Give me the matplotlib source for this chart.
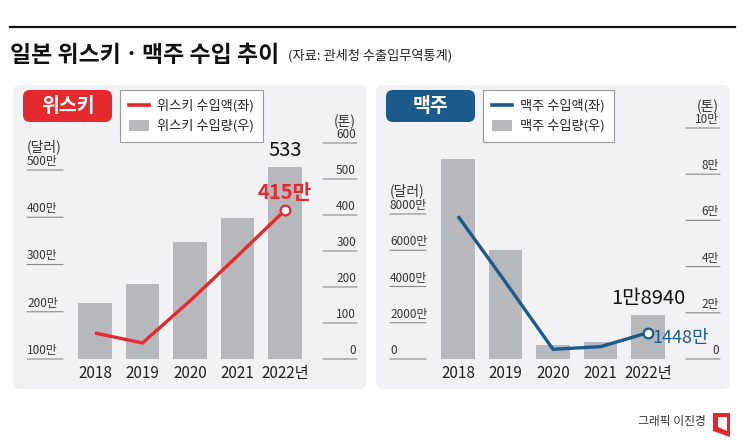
import matplotlib
matplotlib.use('Agg')
import matplotlib.pyplot as plt
from matplotlib.patches import FancyBboxPatch, Polygon, Patch
from matplotlib.lines import Line2D

plt.rcParams['font.family'] = ['Noto Sans CJK KR', 'DejaVu Sans']

years = ['2018', '2019', '2020', '2021', '2022년']

# 위스키 (수입액: 만 달러, 수입량: 톤)
whisky_amount = [155, 134, 223, 318, 415]
whisky_volume = [155, 208, 325, 392, 533]
whisky_left_ticks = [100, 200, 300, 400, 500]
whisky_right_ticks = [0, 100, 200, 300, 400, 500, 600]

# 맥주 (수입액: 만 달러, 수입량: 톤)
beer_amount = [7880, 4240, 535, 680, 1448]
beer_volume = [86600, 47200, 6000, 7400, 18940]
beer_left_ticks = [0, 2000, 4000, 6000, 8000]
beer_right_ticks = [0, 20000, 40000, 60000, 80000, 100000]

W, H = 745, 440
fig = plt.figure(figsize=(W / 100, H / 100), dpi=100)
fig.patch.set_facecolor('white')

# 배경용 축 (픽셀 좌표)
bg = fig.add_axes([0, 0, 1, 1])
bg.set_xlim(0, W)
bg.set_ylim(H, 0)
bg.axis('off')

bg.plot([10, 735], [27, 27], color='#111111', lw=1.6)
bg.text(10, 62, '일본 위스키ㆍ맥주 수입 추이', fontsize=16.5, fontweight='bold',
        color='#111111', va='baseline', ha='left')
bg.text(288, 60, '(자료: 관세청 수출입무역통계)', fontsize=9.5, color='#222222',
        va='baseline', ha='left')

# 하단 크레딧
bg.text(706, 422, '그래픽 이진경', fontsize=8.5, color='#333333', ha='right', va='center')
bg.add_patch(Polygon([(713, 413), (730, 413), (730, 437), (713, 431)], closed=True,
                     facecolor='#e5262c', edgecolor='none'))
bg.add_patch(Polygon([(718, 417), (727, 417), (727, 431), (718, 427)], closed=True,
                     facecolor='white', edgecolor='none'))

BAR = '#b7b8bc'
AX_TOP, AX_BOT = 100, 359


def draw_panel(dx, name, color, amount, volume, lticks, lfmt, lbase, lscale,
               rticks, rfmt, rscale, vol_label, amt_label, amt_offset, amt_ha, amt_size, amt_weight):
    # 패널 배경
    bg.add_patch(FancyBboxPatch((13 + dx, 85), 354, 304,
                                boxstyle='round,pad=0,rounding_size=7',
                                facecolor='#f2f2f4', edgecolor='none'))
    bg.add_patch(FancyBboxPatch((23 + dx, 90), 89, 32,
                                boxstyle='round,pad=0,rounding_size=7',
                                facecolor=color, edgecolor='none'))
    bg.text(67.5 + dx, 106, name, color='white', fontsize=14, fontweight='bold',
            ha='center', va='center')

    left, right = 20 + dx, 362 + dx
    ax = fig.add_axes([left / W, 1 - AX_BOT / H, (right - left) / W, (AX_BOT - AX_TOP) / H])
    axr = ax.twinx()
    ax.set_zorder(axr.get_zorder() + 1)
    ax.patch.set_visible(False)
    axr.patch.set_visible(False)

    step = 47.5
    c0 = 95 + dx
    ax.set_xlim((left - c0) / step, (right - c0) / step)
    ax.set_ylim(lbase, lbase + (AX_BOT - AX_TOP) / lscale)
    axr.set_ylim(0, (AX_BOT - AX_TOP) / rscale)

    x = list(range(len(years)))
    axr.bar(x, volume, width=0.7, color=BAR, zorder=1)
    ax.plot(x, amount, color=color, lw=2.4, solid_capstyle='butt', zorder=3)
    ax.plot(x[-1], amount[-1], 'o', ms=7, mfc='white', mec=color, mew=1.6, zorder=4)

    for a in (ax, axr):
        for s in a.spines.values():
            s.set_visible(False)
        a.set_yticks([])
    ax.set_xticks(x, years)
    ax.tick_params(axis='x', length=0, pad=4, labelsize=11, labelcolor='#222222')

    # 왼쪽 축 눈금
    lco = (bg.transData, ax.transData)
    for v in lticks:
        ax.annotate('', xy=(27 + dx, v), xytext=(63 + dx, v), xycoords=lco, textcoords=lco,
                    arrowprops=dict(arrowstyle='-', color='#8a8a8a', lw=0.8,
                                    shrinkA=0, shrinkB=0), annotation_clip=False)
        ax.annotate(lfmt(v), xy=(27 + dx, v), xycoords=lco, xytext=(0, 2),
                    textcoords='offset pixels', fontsize=8.5, color='#333333',
                    ha='left', va='bottom', annotation_clip=False)
    ax.annotate('(달러)', xy=(27 + dx, lticks[-1]), xycoords=lco, xytext=(0, 16),
                textcoords='offset pixels', fontsize=10, color='#333333',
                ha='left', va='bottom', annotation_clip=False)

    # 오른쪽 축 눈금
    rco = (bg.transData, axr.transData)
    for v in rticks:
        axr.annotate('', xy=(323 + dx, v), xytext=(357 + dx, v), xycoords=rco, textcoords=rco,
                     arrowprops=dict(arrowstyle='-', color='#8a8a8a', lw=0.8,
                                     shrinkA=0, shrinkB=0), annotation_clip=False)
        axr.annotate(rfmt(v), xy=(356 + dx, v), xycoords=rco, xytext=(0, 2),
                     textcoords='offset pixels', fontsize=8.5, color='#333333',
                     ha='right', va='bottom', annotation_clip=False)
    axr.annotate('(톤)', xy=(356 + dx, rticks[-1]), xycoords=rco, xytext=(0, 14),
                 textcoords='offset pixels', fontsize=10, color='#333333',
                 ha='right', va='bottom', annotation_clip=False)

    # 값 표시
    axr.annotate(vol_label, xy=(x[-1], volume[-1]), xytext=(0, 6), textcoords='offset pixels',
                 fontsize=14.5, color='#111111', ha='center', va='bottom')
    ax.annotate(amt_label, xy=(x[-1], amount[-1]), xytext=amt_offset, textcoords='offset pixels',
                fontsize=amt_size, fontweight=amt_weight, color=color, ha=amt_ha, va='center')

    # 범례
    handles = [Line2D([], [], color=color, lw=2.6),
               Patch(facecolor=BAR, edgecolor='none')]
    labels = [name + ' 수입액(좌)', name + ' 수입량(우)']
    leg = ax.legend(handles, labels, loc='upper left', bbox_to_anchor=(120 + dx, 90),
                    bbox_transform=bg.transData, borderaxespad=0, fontsize=9.5, frameon=True,
                    fancybox=False, edgecolor='#999999', framealpha=1, borderpad=0.7,
                    handlelength=1.5, handleheight=0.9, handletextpad=0.6, labelspacing=0.5)
    leg.get_frame().set_linewidth(0.8)
    for t in leg.get_texts():
        t.set_color('#222222')


draw_panel(0, '위스키', '#e42a2f', whisky_amount, whisky_volume,
           whisky_left_ticks, lambda v: f'{v}만', 100, 0.4725,
           whisky_right_ticks, lambda v: f'{v}', 0.36,
           '533', '415만', (0, 18), 'center', 14.5, 'bold')

draw_panel(363, '맥주', '#1b5a8c', beer_amount, beer_volume,
           beer_left_ticks, lambda v: '0' if v == 0 else f'{v}만', 0, 0.018125,
           beer_right_ticks, lambda v: '0' if v == 0 else f'{v // 10000}만', 0.00231,
           '1만8940', '1448만', (4, -5), 'left', 13, 'medium')

fig.savefig('out.png', dpi=100)
